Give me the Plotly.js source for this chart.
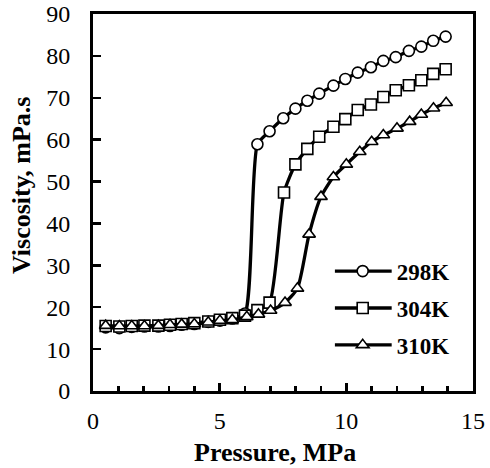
<!DOCTYPE html>
<html>
<head>
<meta charset="utf-8">
<script src="https://cdn.plot.ly/plotly-3.0.1.min.js"></script>
<style>html,body{margin:0;padding:0;background:#fff;}#chart{width:490px;height:468px;}</style>
</head>
<body>
<div id="chart"></div>
<script>
// Pressure (MPa)
var pressure298 = [0.5,1.04,1.53,2.03,2.58,3.04,3.5,4.0,4.55,5.01,5.5,6.0,6.49,6.97,7.51,7.99,8.46,8.93,9.49,9.96,10.45,10.97,11.46,11.95,12.47,12.96,13.43,13.92];
var visc298 = [15.2,15.0,15.3,15.4,15.4,15.5,15.8,16.0,16.5,16.8,17.3,18.5,58.9,62.0,65.1,67.4,69.3,71.0,72.9,74.5,76.0,77.3,78.8,79.7,81.2,82.2,83.6,84.6];
var pressure304 = [0.5,1.04,1.53,2.03,2.58,3.04,3.5,4.0,4.55,5.01,5.5,6.0,6.49,6.97,7.54,7.99,8.46,8.93,9.49,9.96,10.45,10.97,11.46,11.95,12.47,12.96,13.43,13.92];
var visc304 = [15.5,15.4,15.5,15.6,15.6,15.8,16.0,16.2,16.6,17.0,17.4,18.0,19.3,21.1,47.4,54.1,57.8,60.7,63.1,64.9,67.1,68.4,70.2,71.8,73.0,74.2,75.7,76.8];
var pressure310 = [0.5,1.04,1.53,2.03,2.58,3.04,3.5,4.0,4.55,5.01,5.5,6.07,6.53,7.01,7.58,8.07,8.53,9.0,9.49,10.0,10.53,11.0,11.46,12.0,12.5,12.96,13.44,13.94];
var visc310 = [15.6,15.5,15.5,15.5,15.6,15.8,15.9,16.0,16.4,16.8,17.0,17.7,18.3,19.2,21.1,24.5,37.4,46.4,51.1,54.1,57.1,59.5,61.1,62.7,64.3,66.0,67.5,68.8];
var seriesNames = ['298K','304K','310K'];
var xTicks = [0,5,10,15];
var yTicks = [0,10,20,30,40,50,60,70,80,90];

var symbols = ['circle','square','triangle-up'];
var xs = [pressure298, pressure304, pressure310];
var ys = [visc298, visc304, visc310];
var traces = [];
for (var i = 0; i < 3; i++) {
  traces.push({
    x: xs[i], y: ys[i], name: seriesNames[i], type: 'scatter', mode: 'lines+markers',
    legendgroup: 'g' + i,
    line: {color: '#000', width: 3.3, shape: 'spline', smoothing: 0.6},
    marker: {symbol: symbols[i], size: 11, color: '#fff', line: {color: '#000', width: 1.6}}
  });
}
var fam = 'Times New Roman, Liberation Serif, serif';
var layout = {
  width: 490, height: 468,
  margin: {l: 93, r: 17, t: 14, b: 77},
  paper_bgcolor: '#fff', plot_bgcolor: '#fff',
  showlegend: true,
  legend: {x: 0.636, y: 0.375, xanchor: 'left', yanchor: 'top', bgcolor: 'rgba(0,0,0,0)',
           font: {family: fam, size: 23, color: '#000', weight: 'bold'}, tracegroupgap: 4, itemwidth: 52},
  xaxis: {
    range: [0, 15], tickvals: xTicks, ticktext: xTicks.map(String),
    ticks: 'inside', ticklen: 8, tickwidth: 2.5, tickcolor: '#000',
    minor: {dtick: 1, ticks: 'inside', ticklen: 5, tickwidth: 2.5, tickcolor: '#000'},
    showline: true, linewidth: 3, linecolor: '#000', mirror: true, showgrid: false, zeroline: false,
    tickfont: {family: fam, size: 24, color: '#000'}, ticklabelstandoff: 6
  },
  yaxis: {
    range: [0, 90], tickvals: yTicks, ticktext: yTicks.map(String),
    ticks: 'inside', ticklen: 8, tickwidth: 2.5, tickcolor: '#000',
    showline: true, linewidth: 3, linecolor: '#000', mirror: true, showgrid: false, zeroline: false,
    tickfont: {family: fam, size: 24, color: '#000'}, ticklabelstandoff: 15
  },
  annotations: [{
    text: '<b>Viscosity, mPa.s</b>', textangle: -90, xref: 'paper', yref: 'paper',
    x: -0.19, y: 0.546, xanchor: 'center', yanchor: 'middle', showarrow: false,
    font: {family: fam, size: 26, color: '#000'}
  }, {
    text: '<b>Pressure, MPa</b>', xref: 'paper', yref: 'paper',
    x: 0.479, y: -0.164, xanchor: 'center', yanchor: 'middle', showarrow: false,
    font: {family: fam, size: 26, color: '#000'}
  }]
};
Plotly.newPlot('chart', traces, layout, {staticPlot: true, displayModeBar: false}).then(function (gd) {
  // lengthen legend sample lines to match the reference legend
  var lines = gd.querySelectorAll('.legend .legendlines path');
  lines.forEach(function (p) { p.setAttribute('d', 'M0,0h57'); p.style.strokeWidth = '3.3px'; });
  var pts = gd.querySelectorAll('.legend .legendsymbols .legendpoints path');
  pts.forEach(function (p) { p.setAttribute('transform', 'translate(28,0)'); });
});
</script>
</body>
</html>
